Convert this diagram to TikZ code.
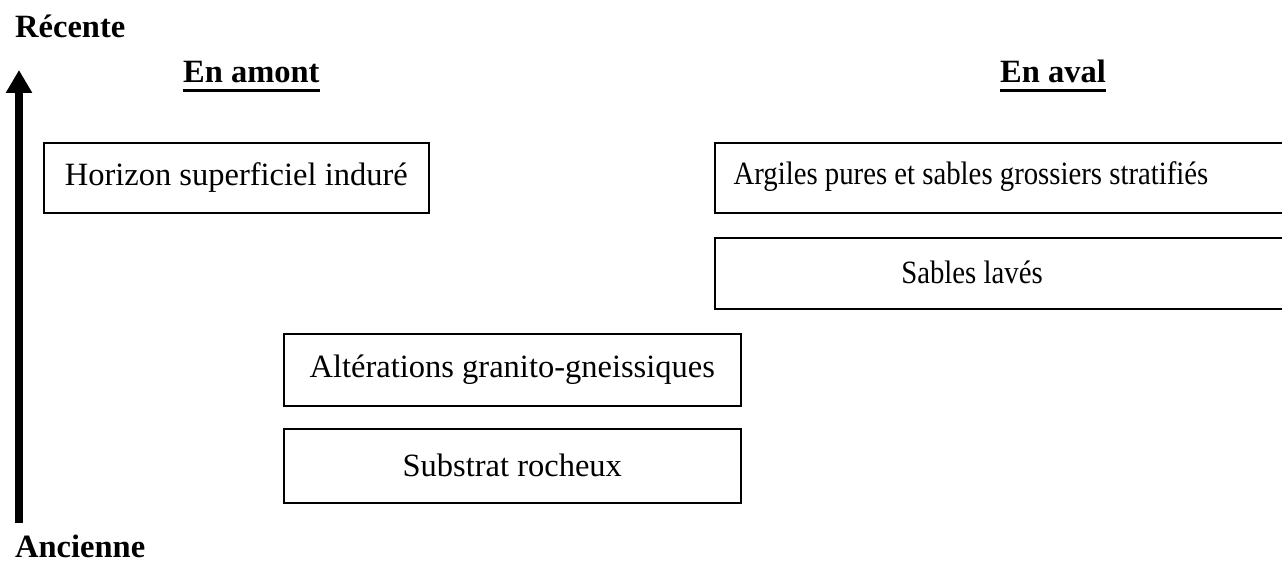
\documentclass[tikz,border=0pt]{standalone}
\usepackage{fontspec}
\setmainfont{Liberation Serif}
\usetikzlibrary{arrows.meta}
\tikzset{
  layer/.style={draw, line width=1.6pt, inner sep=0pt, anchor=north west},
  lbl/.style={inner sep=0pt, font=\fontsize{32.5}{38}\selectfont},
  narrow/.style={lbl, xscale=0.885},
  head/.style={inner sep=0pt, anchor=base west, font=\fontsize{32.5}{38}\selectfont\bfseries},
  rule/.style={line width=3pt},
}
\begin{document}
\begin{tikzpicture}[x=1pt, y=-1pt]
  \useasboundingbox (0,0) rectangle (1282,567);

  % time axis
  \coordinate (old) at (19,523);
  \coordinate (new) at (19,70);
  \draw[line width=8pt, -{Triangle[width=25pt,length=23pt]}] (old) -- (new);
  \node[head] (recente) at (15,38) {Récente};
  \node[head] (ancienne) at (15,557) {Ancienne};

  % column headings, underlined
  \node[head] (amont) at (183,83) {En amont};
  \node[head] (aval) at (1000,83) {En aval};
  \draw[rule] ([yshift=-7.5pt]amont.base west) -- ([yshift=-7.5pt]amont.base east);
  \draw[rule] ([yshift=-7.5pt]aval.base west) -- ([yshift=-7.5pt]aval.base east);

  % upstream layers
  \node[layer, minimum width=385pt, minimum height=70pt] (horizon) at (43,142) {};
  \node[lbl] (horizont) at (horizon.center) {Horizon superficiel induré};
  \node[layer, minimum width=457pt, minimum height=72pt] (alter) at (283,333) {};
  \node[lbl] (altert) at (alter.center) {Altérations granito-gneissiques};
  \node[layer, minimum width=457pt, minimum height=74pt] (substrat) at (283,428) {};
  \node[lbl] (substratt) at (substrat.center) {Substrat rocheux};

  % downstream layers
  \node[layer, minimum width=590pt, minimum height=70pt] (argiles) at (714,142) {};
  \node[narrow] (argilest) at (971,177) {Argiles pures et sables grossiers stratifiés};
  \node[layer, minimum width=590pt, minimum height=71pt] (sables) at (714,237) {};
  \node[narrow] (sablest) at (972,272) {Sables lavés};
\end{tikzpicture}
\end{document}
